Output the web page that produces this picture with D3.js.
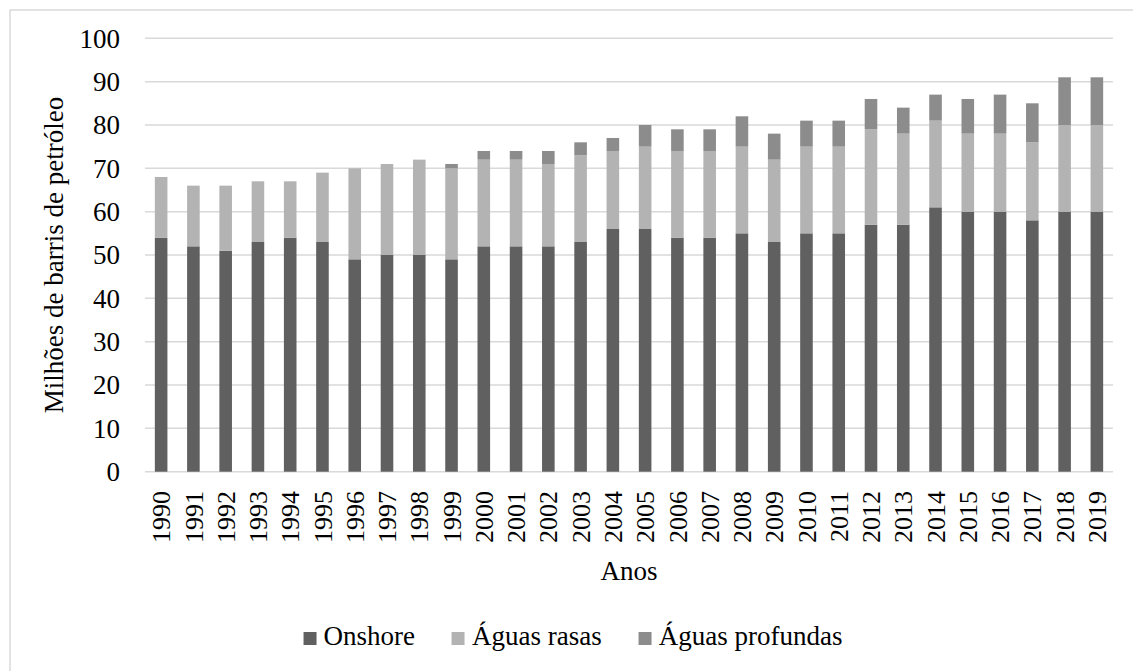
<!DOCTYPE html>
<html>
<head>
<meta charset="utf-8">
<script src="https://cdn.jsdelivr.net/npm/d3@7"></script>
<style>
  html, body { margin: 0; padding: 0; background: #fff; font-family: "Liberation Serif", serif; overflow: hidden; }
  #wrap { position: relative; width: 1133px; height: 671px; }
  #wrap svg { position: absolute; left: 0; top: 0; display: block; }
  #legend { position: absolute; top: 623px; left: 573px; transform: translateX(-50%);
            display: flex; white-space: nowrap; font-size: 27px; line-height: 27px; color: #000; }
  .item { display: flex; align-items: flex-start; margin-right: 37px; }
  .item:last-child { margin-right: 0; }
  .sw { width: 13px; height: 13px; margin-top: 9px; margin-right: 7px; }
</style>
</head>
<body>
<div id="wrap"><div id="legend"></div></div>
<script>
const years = ["1990","1991","1992","1993","1994","1995","1996","1997","1998","1999",
  "2000","2001","2002","2003","2004","2005","2006","2007","2008","2009",
  "2010","2011","2012","2013","2014","2015","2016","2017","2018","2019"];
const onshore   = [54,52,51,53,54,53,49,50,50,49,52,52,52,53,56,56,54,54,55,53,55,55,57,57,61,60,60,58,60,60];
const aguasRasas = [14,14,15,14,13,16,21,21,22,21,20,20,19,20,18,19,20,20,20,19,20,20,22,21,20,18,18,18,20,20];
const aguasProfundas = [0,0,0,0,0,0,0,0,0,1,2,2,3,3,3,5,5,5,7,6,6,6,7,6,6,8,9,9,11,11];
const seriesNames = ["Onshore","Águas rasas","Águas profundas"];
const seriesColors = ["#606060","#b3b3b3","#8c8c8c"];
const yTicks = [0,10,20,30,40,50,60,70,80,90,100];

const FONT = "Liberation Serif";
const svg = d3.select("#wrap").insert("svg", "#legend")
  .attr("width", 1133).attr("height", 671)
  .attr("font-family", FONT);
const m = { left: 145, right: 1113, top: 38.3, bottom: 471.7 };

function txt(sel, size) {
  return sel.attr("font-family", FONT).attr("font-size", size)
    .style("font-family", FONT).style("font-size", size + "px").attr("fill", "#000");
}

// outer frame
svg.append("rect").attr("x", 10).attr("y", 10).attr("width", 1130).attr("height", 680)
  .attr("fill", "none").attr("stroke", "#d9d9d9").attr("stroke-width", 1.5);

const rows = years.map((y, i) => ({ year: y, "Onshore": onshore[i], "Águas rasas": aguasRasas[i], "Águas profundas": aguasProfundas[i] }));
const stack = d3.stack().keys(seriesNames)(rows);

const x = d3.scaleBand().domain(years).range([m.left, m.right]).paddingInner(0.61).paddingOuter(0.305);
const y = d3.scaleLinear().domain([0, 100]).range([m.bottom, m.top]);

// gridlines
svg.append("g").selectAll("line").data(yTicks).join("line")
  .attr("x1", m.left).attr("x2", m.right)
  .attr("y1", d => y(d)).attr("y2", d => y(d))
  .attr("stroke", "#d9d9d9").attr("stroke-width", 1.5);

// y tick labels
txt(svg.append("g").selectAll("text").data(yTicks).join("text")
  .attr("x", 120).attr("y", d => y(d)).attr("dy", "0.35em")
  .attr("text-anchor", "end"), 27)
  .text(d => d);

// bars
const color = d3.scaleOrdinal().domain(seriesNames).range(seriesColors);
svg.append("g").selectAll("g").data(stack).join("g")
  .attr("fill", d => color(d.key))
  .selectAll("rect").data(d => d).join("rect")
  .attr("x", d => x(d.data.year))
  .attr("width", x.bandwidth())
  .attr("y", d => y(d[1]))
  .attr("height", d => y(d[0]) - y(d[1]));

// x tick labels
txt(svg.append("g").selectAll("text").data(years).join("text")
  .attr("transform", d => `translate(${x(d) + x.bandwidth() / 2},491) rotate(-90)`)
  .attr("dy", "0.35em").attr("text-anchor", "end"), 26)
  .text(d => d);

// axis titles
txt(svg.append("text").attr("x", (m.left + m.right) / 2).attr("y", 580)
  .attr("text-anchor", "middle"), 27).text("Anos");
txt(svg.append("text").attr("transform", `translate(63,${(m.top + m.bottom) / 2}) rotate(-90)`)
  .attr("text-anchor", "middle"), 27).text("Milhões de barris de petróleo");

// legend (HTML)
const items = d3.select("#legend").selectAll("div.item").data(seriesNames).join("div").attr("class", "item");
items.append("div").attr("class", "sw").style("background", d => color(d));
items.append("span").text(d => d);
</script>
</body>
</html>
